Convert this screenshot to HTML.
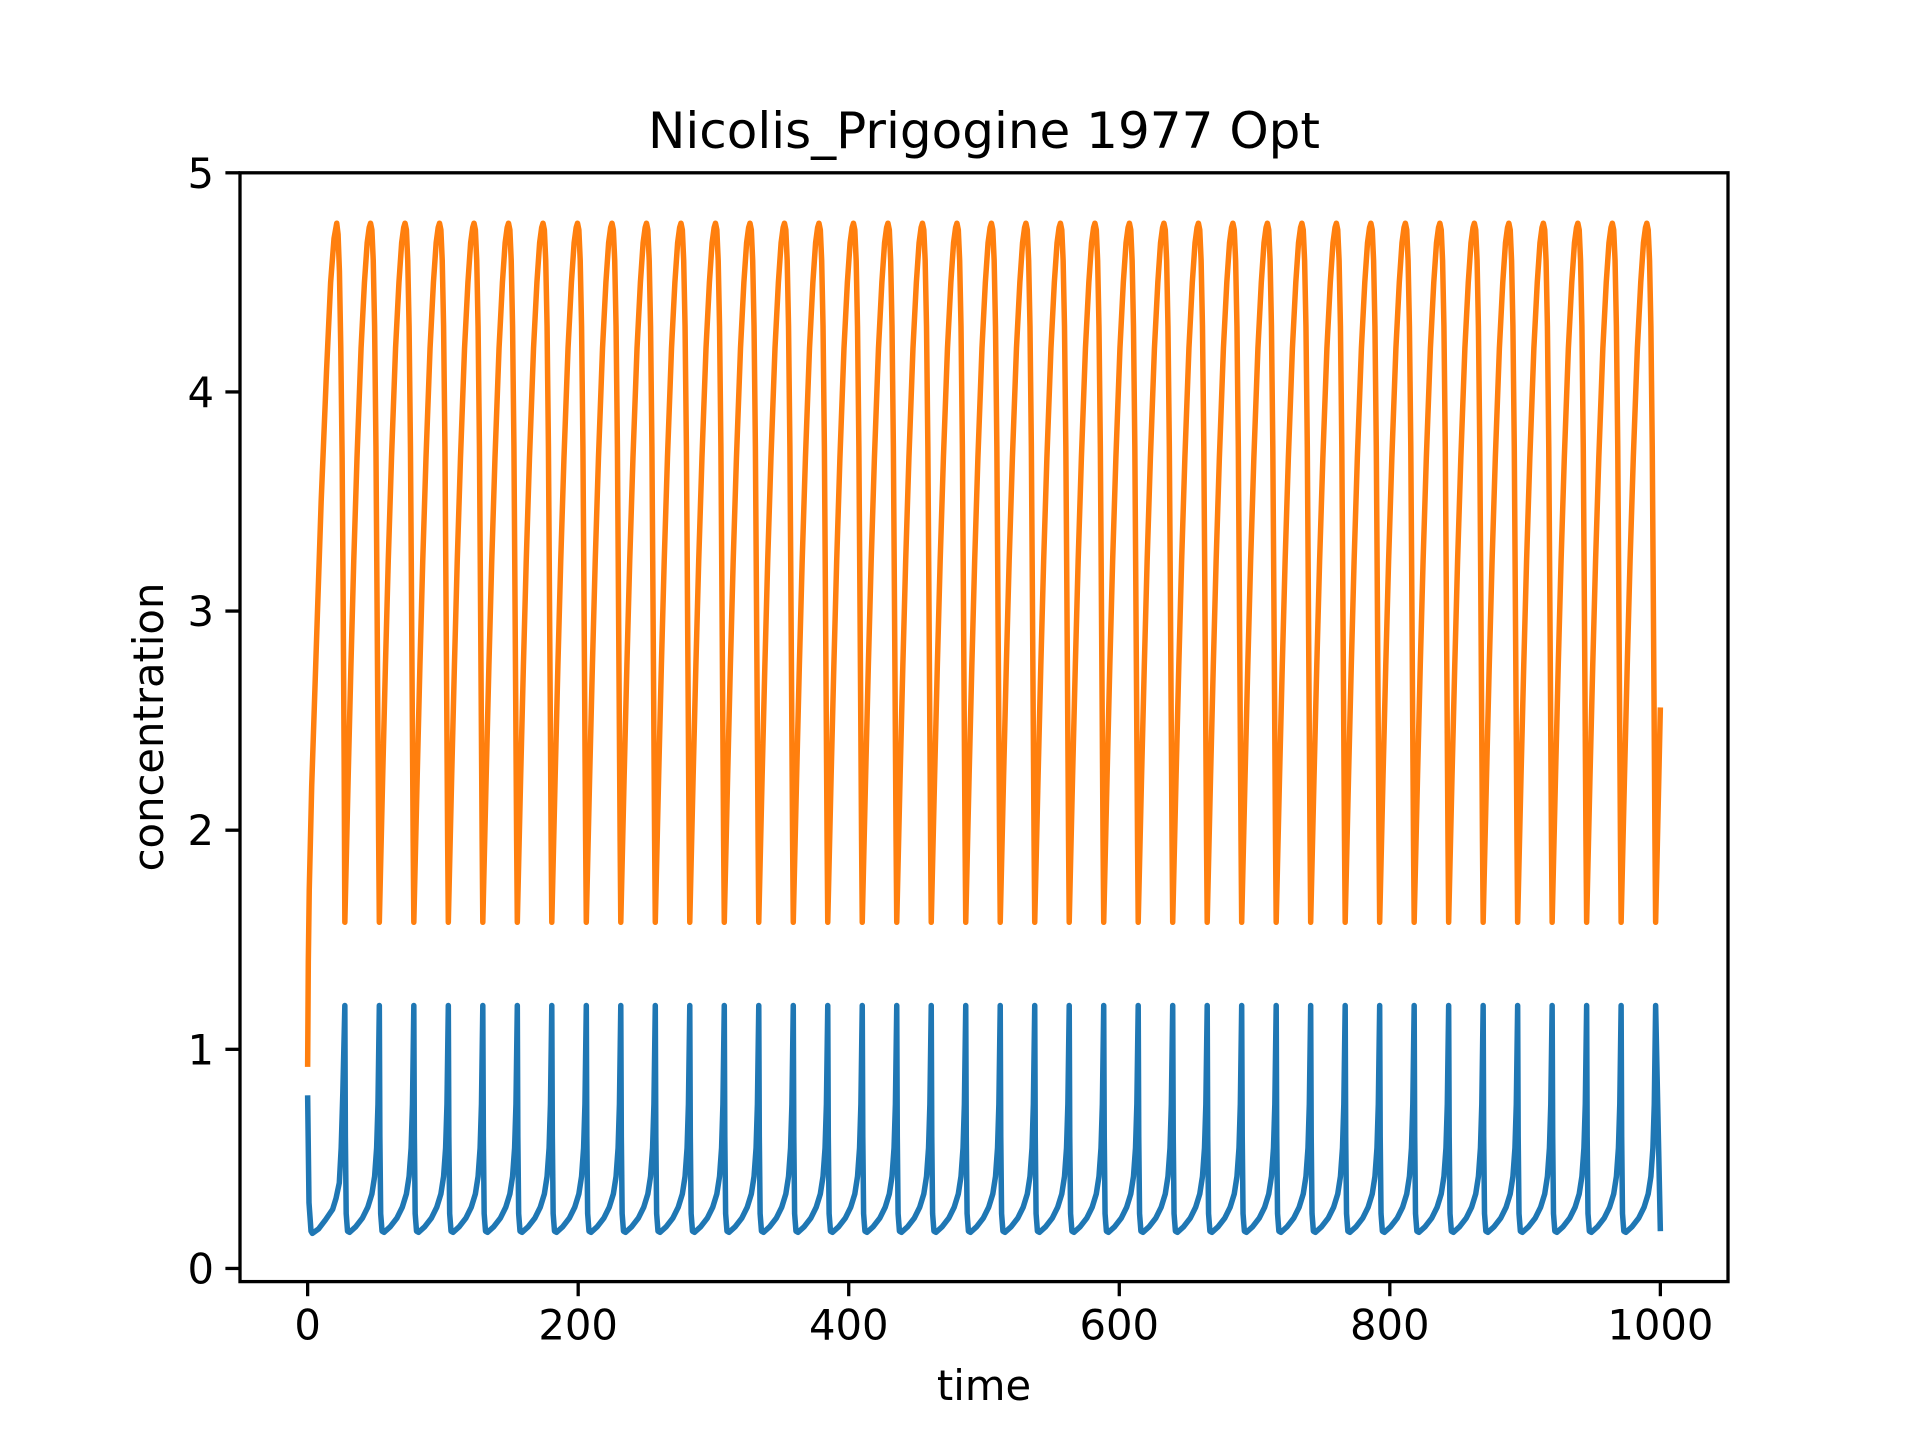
<!DOCTYPE html>
<html><head><meta charset="utf-8"><style>
html,body{margin:0;padding:0;background:#fff;}
svg{display:block;font-family:"DejaVu Sans","Liberation Sans",sans-serif;}
</style></head><body>
<svg id="chart" width="1920" height="1440" viewBox="0 0 1920 1440" xmlns="http://www.w3.org/2000/svg">
<rect width="1920" height="1440" fill="#fff"/>
<g id="plot"></g>
<g id="axes"></g>
<text x="984" y="148" font-size="50" text-anchor="middle" fill="#000">Nicolis_Prigogine 1977 Opt</text>
<text x="984" y="1400" font-size="41.7" text-anchor="middle" fill="#000">time</text>
<text transform="translate(163,727) rotate(-90)" font-size="41.7" text-anchor="middle" fill="#000">concentration</text>
</svg>
<script>
// ---- data ----
const xTicks = [0, 200, 400, 600, 800, 1000];
const yTicks = [0, 1, 2, 3, 4, 5];
// times of the orange minima / blue spikes (period ~25.5)
const cycleStarts = [27.5,53.0,78.5,104.0,129.5,155.0,180.5,206.0,231.5,257.0,282.5,308.0,333.5,359.0,384.5,410.0,435.5,461.0,486.5,512.0,537.5,563.0,588.5,614.0,639.5,665.0,690.5,716.0,741.5,767.0,792.5,818.0,843.5,869.0,894.5,920.0,945.5,971.0];
// one cycle shape (phase relative to cycle start)
const orangePhase = [0, 1, 2.5, 4.5, 6.6, 9, 12, 14.5, 16.5, 18, 19, 20, 21, 22, 23, 23.6, 24.3, 25, 25.5];
const orangeCycle = [1.58, 1.85, 2.25, 2.75, 3.23, 3.7, 4.2, 4.5, 4.68, 4.75, 4.77, 4.74, 4.6, 4.3, 3.75, 3.23, 2.6, 1.95, 1.58];
const bluePhase = [0, 0.4, 1, 2, 3.5, 8, 13, 17, 20, 22, 23.5, 24.5, 25.5];
const blueCycle = [1.2, 0.6, 0.25, 0.17, 0.165, 0.19, 0.23, 0.28, 0.34, 0.42, 0.55, 0.75, 1.2];
// initial transient (t from 0 to first cycle start)
const orangeInitT = [0, 0.5, 1.2, 3, 6.7, 10, 14, 17, 19.5, 21.5, 22.5, 23.5, 24.5, 25.5, 26.2, 27, 27.5];
const orangeInitV = [0.92, 1.4, 1.73, 2.2, 2.89, 3.5, 4.1, 4.5, 4.7, 4.77, 4.72, 4.55, 4.2, 3.7, 3.1, 2.3, 1.58];
const blueInitT = [0, 1, 2.5, 3.5, 8, 13, 18.5, 21, 23.4, 24.8, 26, 27.5];
const blueInitV = [0.79, 0.3, 0.17, 0.16, 0.18, 0.22, 0.27, 0.32, 0.39, 0.55, 0.8, 1.2];
const tEnd = 1000, orangeEnd = 2.56, blueEnd = 0.17;

// ---- axes ----
const L=240, R=1728, T=172.8, B=1281.6;
const xMin=-50, xMax=1050, yMin=-0.06, yMax=5.0;
const sx = t => L + (t - xMin) / (xMax - xMin) * (R - L);
const sy = v => B - (v - yMin) / (yMax - yMin) * (B - T);
const NS="http://www.w3.org/2000/svg";
function mk(tag, attrs, parent){const e=document.createElementNS(NS,tag);for(const k in attrs)e.setAttribute(k,attrs[k]);parent.appendChild(e);return e;}

function buildSeries(initT, initV, phase, cyc, endV){
  const pts=[];
  initT.forEach((t,i)=>pts.push([t,initV[i]]));
  cycleStarts.forEach(s=>{
    phase.forEach((p,i)=>{ if(i>0){ const t=s+p; if(t<tEnd) pts.push([t,cyc[i]]); } });
  });
  pts.push([tEnd,endV]);
  return pts.sort((a,b)=>a[0]-b[0]);
}
const plot=document.getElementById('plot');
const series=[
  {name:'orange-series', color:'#ff7f0e', pts:buildSeries(orangeInitT,orangeInitV,orangePhase,orangeCycle,orangeEnd)},
  {name:'blue-series', color:'#1f77b4', pts:buildSeries(blueInitT,blueInitV,bluePhase,blueCycle,blueEnd)}
];
series.forEach(s=>{
  const d=s.pts.map((p,i)=>(i?'L':'M')+sx(p[0]).toFixed(2)+' '+sy(p[1]).toFixed(2)).join(' ');
  const path=mk('path',{d:d,fill:'none',stroke:s.color,'stroke-width':5.5,'stroke-linejoin':'round'},plot);
  
  
});

const ax=document.getElementById('axes');
const frame=mk('rect',{x:L,y:T,width:R-L,height:B-T,fill:'none',stroke:'#000','stroke-width':3.3},ax);


xTicks.forEach(v=>{
  const x=sx(v);
  const tk=mk('line',{x1:x,x2:x,y1:B,y2:B+14.6,stroke:'#000','stroke-width':3.3},ax);
  
  
  const tx=mk('text',{x:x,y:B+58,'font-size':41.7,'text-anchor':'middle',fill:'#000'},ax);
  tx.textContent=v;
  
  
});
yTicks.forEach(v=>{
  const y=sy(v);
  const tk=mk('line',{x1:L-14.6,x2:L,y1:y,y2:y,stroke:'#000','stroke-width':3.3},ax);
  
  
  const tx=mk('text',{x:L-26,y:y+15,'font-size':41.7,'text-anchor':'end',fill:'#000'},ax);
  tx.textContent=v;
  
  
});
</script>
</body></html>
